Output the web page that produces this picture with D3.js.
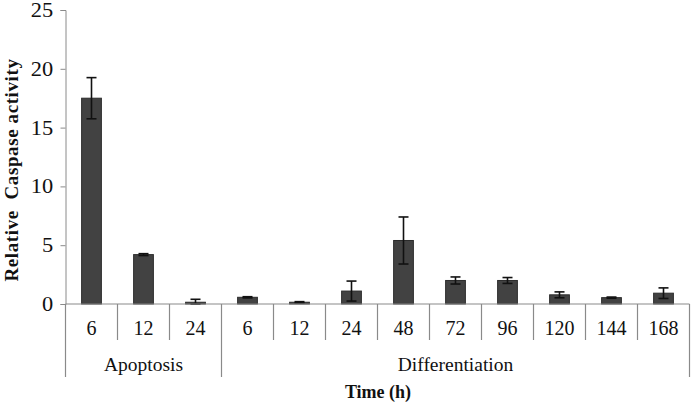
<!DOCTYPE html>
<html><head><meta charset="utf-8">
<script src="https://cdn.jsdelivr.net/npm/d3@7"></script>
<style>body{margin:0;background:#fff}svg{display:block}
svg text{font-family:"Liberation Serif","Times New Roman","DejaVu Serif",serif;}
</style>
</head><body>
<svg id="c" width="693" height="404"></svg>
<script>
const groups = ["Apoptosis", "Differentiation"];
const times = ["6", "12", "24", "6", "12", "24", "48", "72", "96", "120", "144", "168"];
const groupOf = [0, 0, 0, 1, 1, 1, 1, 1, 1, 1, 1, 1];
const values = [17.5, 4.2, 0.15, 0.57, 0.15, 1.1, 5.4, 2.0, 2.0, 0.78, 0.54, 0.92];
const errors = [1.75, 0.08, 0.25, 0.05, 0.05, 0.85, 2.0, 0.3, 0.25, 0.25, 0.05, 0.45];
const yTicks = [0, 5, 10, 15, 20, 25];

const svg = d3.select("#c");
const mLeft = 65.5, mRight = 689.5, mTop = 10, mBottom = 304;
const axisColor = "#8a8a8a";

const x = d3.scaleBand().domain(d3.range(times.length)).range([mLeft, mRight]).paddingInner(0.62).paddingOuter(0.31);
const step = x.step();
const xEdge = i => mLeft + i * step;
const y = d3.scaleLinear().domain([0, 25]).range([mBottom, mTop]);

// y axis
const yAxis = d3.axisLeft(y).tickValues(yTicks).tickSize(5).tickPadding(4);
const gy = svg.append("g").attr("transform", `translate(${mLeft},0)`).call(yAxis);
gy.attr("font-family", null);
gy.select(".domain").attr("stroke", axisColor);
gy.selectAll(".tick line").attr("stroke", axisColor);
gy.selectAll(".tick text").attr("font-size", 20).attr("fill", "#111").attr("dx", -2)
  .attr("transform", "scale(1.12,1)");

// bars
svg.append("g").selectAll("rect").data(values).join("rect")
  .attr("x", (d, i) => x(i))
  .attr("width", x.bandwidth())
  .attr("y", d => y(d))
  .attr("height", d => y(0) - y(d))
  .attr("fill", "#424242")
  .attr("stroke", "#2c2c2c")
  .attr("stroke-width", 1);

// error bars
const eb = svg.append("g").attr("stroke", "#111").attr("stroke-width", 1.6);
values.forEach((v, i) => {
  const cx = x(i) + x.bandwidth() / 2;
  const y1 = y(v + errors[i]), y2 = y(Math.max(0, v - errors[i]));
  eb.append("line").attr("x1", cx).attr("x2", cx).attr("y1", y1).attr("y2", y2);
  eb.append("line").attr("x1", cx - 5).attr("x2", cx + 5).attr("y1", y1).attr("y2", y1);
  eb.append("line").attr("x1", cx - 5).attr("x2", cx + 5).attr("y1", y2).attr("y2", y2);
});

// x axis line
const gx = svg.append("g").attr("stroke", axisColor).attr("stroke-width", 1.2);
gx.append("line").attr("x1", mLeft).attr("x2", mRight).attr("y1", mBottom).attr("y2", mBottom);
// separators
for (let i = 0; i <= times.length; i++) {
  const isGroupEdge = i === 0 || i === times.length || groupOf[i] !== groupOf[i - 1];
  gx.append("line").attr("x1", xEdge(i)).attr("x2", xEdge(i))
    .attr("y1", mBottom).attr("y2", isGroupEdge ? 377 : 340);
}
// category labels
svg.append("g").selectAll("text").data(times).join("text")
  .attr("x", (d, i) => x(i) + x.bandwidth() / 2)
  .attr("y", 335)
  .attr("text-anchor", "middle")
  .attr("font-size", 20).attr("fill", "#111")
  .text(d => d);
// group labels
groups.forEach((g, gi) => {
  const idx = groupOf.map((d, i) => d === gi ? i : -1).filter(i => i >= 0);
  const x0 = xEdge(idx[0]), x1 = xEdge(idx[idx.length - 1] + 1);
  svg.append("text").attr("x", (x0 + x1) / 2).attr("y", 371)
    .attr("text-anchor", "middle").attr("font-size", 19.5).attr("fill", "#111")
    .text(g);
});
// axis titles
svg.append("text").attr("x", 378).attr("y", 398).attr("text-anchor", "middle")
  .attr("font-size", 18).attr("font-weight", "bold").attr("fill", "#111")
  .text("Time (h)");
svg.append("text").attr("transform", "translate(18,170) rotate(-90)").attr("text-anchor", "middle")
  .attr("font-size", 19).attr("font-weight", "bold").attr("fill", "#111")
  .attr("letter-spacing", 0.6)
  .style("white-space", "pre")
  .text("Relative  Caspase activity");
</script>
</body></html>
